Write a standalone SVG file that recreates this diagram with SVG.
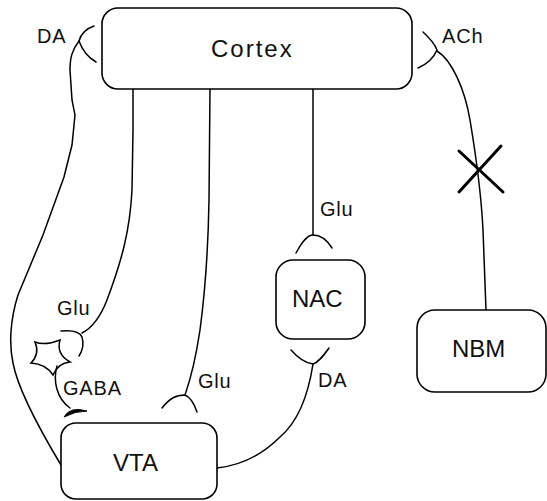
<svg xmlns="http://www.w3.org/2000/svg" width="547" height="501" viewBox="0 0 547 501">
<style>
.box{fill:#fff;stroke:#000;stroke-width:1.6}
.ln{fill:none;stroke:#000;stroke-width:1.5;stroke-linecap:round}
.node{font-family:"Liberation Sans",Arial,sans-serif;font-size:24px;fill:#111}
.lbl{font-family:"Liberation Sans",Arial,sans-serif;font-size:20px;fill:#111;letter-spacing:0.8px}
</style>
<rect width="547" height="501" fill="#fff"/>
<g id="connectors">
<!-- DA: VTA to Cortex -->
<path class="ln" d="M79,41 C72,50 70,58 70,70 L72,100 L75,115 L72,145 L64,177 L43,235 L18,295 C10,320 9,345 13,363 C18,390 40,430 61,465"/>
<path class="ln" d="M94,26 Q82,30 79,41 Q84,55 96,62"/>
<!-- Cortex to interneuron Glu -->
<path class="ln" d="M133,89 L133,130 L132,190 C130,230 122,260 107,300 C100,318 92,328 82,333"/>
<path class="ln" d="M61,331 C72,330 80,332 82,337 C84,344 83,350 79,356"/>
<!-- interneuron star -->
<path class="ln" d="M35,342 Q45,346 60,340 Q56,354 70,362 Q58,363 53,375 Q46,364 31,363 Q40,354 35,342 Z"/>
<!-- GABA to VTA -->
<path class="ln" d="M57,366 C53,380 56,398 70,408"/>
<path d="M64,417 Q70,406 87,411 Q75,411 64,417 Z" fill="#000" stroke="#000" stroke-width="1"/>
<!-- Cortex to VTA Glu -->
<path class="ln" d="M210,89 L209,200 C208,260 204,300 200,330 C197,350 192,375 185,395"/>
<path class="ln" d="M162,408 C170,398 176,395 185,395 C190,397 194,403 197,412"/>
<!-- Cortex to NAC Glu -->
<path class="ln" d="M313,89 L313,235"/>
<path class="ln" d="M296,253 C302,242 307,235 313,235 C321,235 327,240 332,248"/>
<!-- NAC DA from VTA -->
<path class="ln" d="M291,350 C298,358 305,363 313,364 C319,362 324,355 329,348"/>
<path class="ln" d="M313,364 C309,390 300,420 280,437 C265,452 245,465 217,468"/>
<!-- ACh NBM to Cortex -->
<path class="ln" d="M423,32 Q434,42 437,50 Q432,62 418,68"/>
<path class="ln" d="M437,51 C452,60 465,90 470,120 C475,150 481,190 483,230 L486,310"/>
<path d="M459,151 L503,192 M501,146 L459,192" fill="none" stroke="#000" stroke-width="3" stroke-linecap="round"/>
</g>
<g id="labels">
<text class="lbl" x="37" y="43">DA</text>
<text class="lbl" x="442" y="43">ACh</text>
<text class="lbl" x="320" y="216">Glu</text>
<text class="lbl" x="318" y="387">DA</text>
<text class="lbl" x="198" y="388">Glu</text>
<text class="lbl" x="57" y="315">Glu</text>
<text class="lbl" x="63" y="395">GABA</text>
</g>
<g id="cortex">
<rect class="box" x="102" y="8" width="310" height="81" rx="16"/>
<text class="node" x="211" y="57" style="letter-spacing:2px">Cortex</text>
</g>
<g id="nac">
<rect class="box" x="276" y="260" width="89" height="79" rx="17"/>
<text class="node" x="292" y="307">NAC</text>
</g>
<g id="nbm">
<rect class="box" x="417" y="310" width="129" height="82" rx="18"/>
<text class="node" x="452" y="357">NBM</text>
</g>
<g id="vta">
<rect class="box" x="61" y="423" width="156" height="76" rx="15"/>
<text class="node" x="113" y="471">VTA</text>
</g>
</svg>
